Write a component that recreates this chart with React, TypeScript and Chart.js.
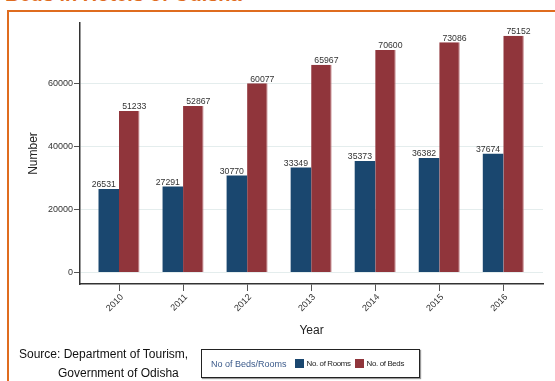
import React, { useEffect, useRef } from "react";
import { Chart, registerables } from "chart.js";

Chart.register(...registerables);

const years = ["2010", "2011", "2012", "2013", "2014", "2015", "2016"];
const rooms = [26531, 27291, 30770, 33349, 35373, 36382, 37674];
const beds = [51233, 52867, 60077, 65967, 70600, 73086, 75152];
const yTicks = [0, 20000, 40000, 60000];
const seriesNames = ["No. of Rooms", "No. of Beds"];
const seriesColors = ["#1a476f", "#90353b"];
const legendTitle = "No of Beds/Rooms";
const sourceLines = ["Source: Department of Tourism,", "Government of Odisha"];
const titleText = "Beds in Hotels of Odisha";
const xTitle = "Year";
const yTitle = "Number";

const FONT = '"Liberation Sans", Arial, Helvetica, sans-serif';

const barLabels = {
  id: "barLabels",
  afterDatasetsDraw(chart: any) {
    const ctx = chart.ctx;
    ctx.save();
    ctx.font = `8.7px ${FONT}`;
    ctx.fillStyle = "#333";
    ctx.textAlign = "center";
    ctx.textBaseline = "alphabetic";
    chart.data.datasets.forEach((ds: any, di: number) => {
      const meta = chart.getDatasetMeta(di);
      const shift = di === 0 ? -5 : 5;
      meta.data.forEach((el: any, i: number) => {
        const v = ds.data[i].y;
        ctx.fillText(String(v), el.x + shift, el.y - 1.7);
      });
    });
    ctx.restore();
  },
};

export default function App() {
  const ref = useRef<HTMLCanvasElement | null>(null);

  useEffect(() => {
    if (!ref.current) return;
    const chart = new Chart(ref.current, {
      type: "bar",
      data: {
        datasets: [
          {
            label: seriesNames[0],
            data: rooms.map((v, i) => ({ x: i, y: v })),
            backgroundColor: seriesColors[0],
          },
          {
            label: seriesNames[1],
            data: beds.map((v, i) => ({ x: i, y: v })),
            backgroundColor: seriesColors[1],
            borderColor: "#c07a7f",
            borderWidth: { top: 0, left: 0, bottom: 0, right: 1 },
          },
        ] as any,
      },
      options: {
        animation: false,
        responsive: false,
        devicePixelRatio: 1,
        layout: { padding: { top: 23, right: 12, bottom: 0, left: 0 } },
        plugins: {
          legend: { display: false },
          tooltip: { enabled: false },
        },
        datasets: { bar: { categoryPercentage: 0.64, barPercentage: 1 } } as any,
        scales: {
          x: {
            type: "linear",
            min: -0.609,
            max: 6.62,
            offset: false,
            afterBuildTicks: (s: any) => {
              s.ticks = years.map((_, i) => ({ value: i }));
            },
            afterFit: (s: any) => {
              s.height = 97;
            },
            ticks: {
              callback: (v: any) => years[v] ?? "",
              minRotation: 45,
              maxRotation: 45,
              autoSkip: false,
              padding: 1,
              labelOffset: 3,
              font: { family: FONT, size: 9 },
              color: "#333",
            },
            grid: {
              offset: false,
              drawOnChartArea: false,
              drawTicks: true,
              tickLength: 7,
              tickColor: "#555",
              color: "#555",
            },
            border: { display: true, color: "#333", width: 1.5 },
            title: {
              display: true,
              text: xTitle,
              font: { family: FONT, size: 12 },
              color: "#222",
              padding: { top: 0, bottom: 42.8 },
            },
          } as any,
          y: {
            min: -3650,
            max: 79200,
            afterBuildTicks: (s: any) => {
              s.ticks = yTicks.map((v) => ({ value: v }));
            },
            afterFit: (s: any) => {
              s.width = 80;
            },
            ticks: {
              callback: (v: any) => String(v),
              padding: 1,
              font: { family: FONT, size: 9 },
              color: "#333",
            },
            grid: {
              color: "#e4eded",
              tickColor: "#555",
              tickLength: 6,
            },
            border: { display: true, color: "#333", width: 1.5 },
            title: {
              display: true,
              text: yTitle,
              font: { family: FONT, size: 12 },
              color: "#222",
              padding: { top: 26.8, bottom: 0 },
            },
          } as any,
        },
      },
      plugins: [barLabels as any],
    });
    return () => chart.destroy();
  }, []);

  return (
    <div
      style={{
        position: "fixed",
        left: 0,
        top: 0,
        width: 555,
        height: 381,
        overflow: "hidden",
        background: "#fff",
        fontFamily: FONT,
      }}
    >
      <div
        style={{
          position: "absolute",
          left: 5,
          top: -16,
          fontSize: 20,
          lineHeight: "20px",
          fontWeight: "bold",
          color: "#df6c1f",
          whiteSpace: "nowrap",
        }}
      >
        {titleText}
      </div>
      <div
        style={{
          position: "absolute",
          left: 7,
          top: 10,
          width: 600,
          height: 400,
          borderTop: "2px solid #df6c1f",
          borderLeft: "2px solid #df6c1f",
        }}
      />
      <canvas
        ref={ref}
        width={555}
        height={381}
        style={{ position: "absolute", left: 0, top: 0, display: "block" }}
      />
      <div
        style={{
          position: "absolute",
          left: 19,
          top: 347,
          fontSize: 12,
          lineHeight: "14px",
          color: "#111",
          whiteSpace: "nowrap",
        }}
      >
        {sourceLines[0]}
      </div>
      <div
        style={{
          position: "absolute",
          left: 58,
          top: 366,
          fontSize: 12,
          lineHeight: "14px",
          color: "#111",
          whiteSpace: "nowrap",
        }}
      >
        {sourceLines[1]}
      </div>
      <div
        style={{
          position: "absolute",
          left: 201,
          top: 349,
          width: 217,
          height: 27,
          border: "1px solid #222",
          boxShadow: "1px 1px 1px #999",
          background: "#fff",
          display: "flex",
          alignItems: "center",
          whiteSpace: "nowrap",
        }}
      >
        <span style={{ marginLeft: 9, fontSize: 9, color: "#3b5a8a" }}>{legendTitle}</span>
        {seriesNames.map((n, i) => (
          <React.Fragment key={n}>
            <span
              style={{
                display: "inline-block",
                width: 9,
                height: 9,
                background: seriesColors[i],
                marginLeft: i === 0 ? 8 : 4,
              }}
            />
            <span style={{ fontSize: 7.9, marginLeft: 3, color: "#222", letterSpacing: -0.35 }}>{n}</span>
          </React.Fragment>
        ))}
      </div>
    </div>
  );
}
